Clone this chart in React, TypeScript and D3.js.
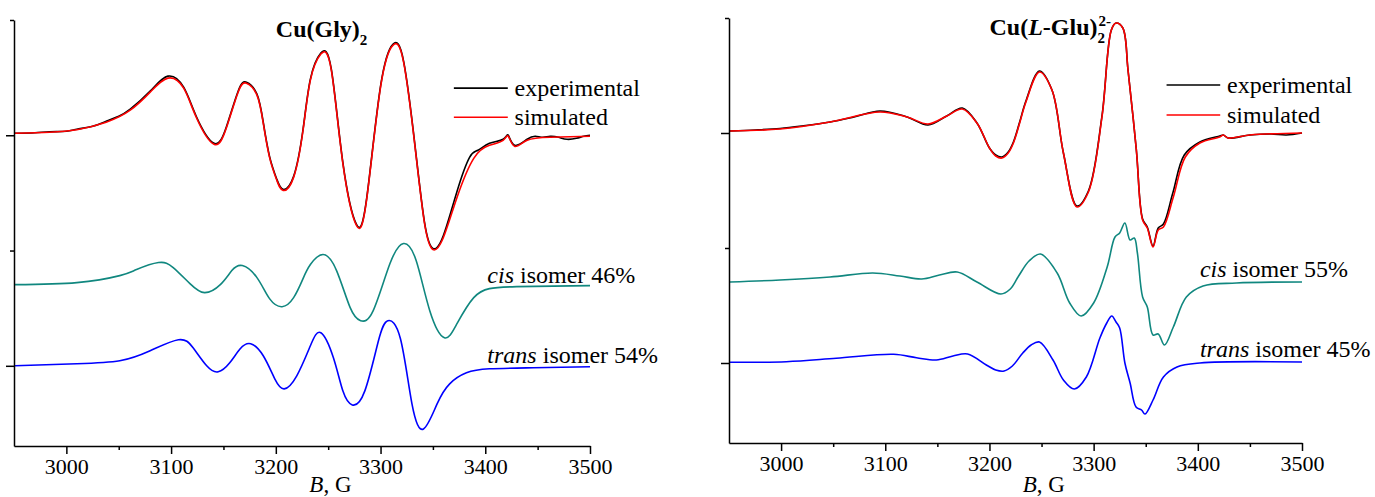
import {
  select,
  scaleLinear,
  line,
  curveNatural,
  curveCatmullRom,
  axisBottom,
  axisLeft,
} from "d3";
import { useEffect, useRef } from "react";

// magnetic field ticks (G) and intensity ticks (a.u., unlabeled)
const fieldTicks = [3000, 3100, 3200, 3300, 3400, 3500];
const fieldMinorTicks = [3050, 3150, 3250, 3350, 3450];
const intensityTicks = [0, 230];
const intensityMinorTicks = [115, 345];

// Cu(Gly)2 spectra: [B, intensity]
const glyExp = [
  [2951, 232], [2970, 232.5], [2984, 233.5], [3000, 234], [3010, 236], [3025, 239],
  [3038, 244], [3050, 249], [3061, 256], [3080, 274], [3097, 289], [3112, 278],
  [3124, 249], [3141, 222], [3153, 239], [3164, 274], [3172, 283], [3182, 271],
  [3188, 243], [3194, 209], [3201, 186], [3207, 176], [3217, 189], [3226, 236],
  [3233, 286], [3243, 312], [3253, 296], [3264, 203], [3277, 141], [3287, 169],
  [3300, 279], [3312, 321], [3322, 304], [3333, 219], [3342, 143], [3350, 117],
  [3360, 130], [3373, 174], [3385, 208], [3393, 215], [3404, 222], [3417, 226],
  [3422, 230], [3428, 220], [3440, 226], [3448, 229], [3455, 228], [3462, 229],
  [3470, 228], [3478, 226], [3487, 227], [3494, 229], [3500, 230],
];
const glySim = [
  [2951, 232], [2984, 233], [3010, 235.5], [3038, 243], [3061, 255], [3080, 273],
  [3097, 287], [3112, 277], [3124, 248], [3141, 221], [3153, 238], [3164, 273],
  [3172, 282], [3182, 270], [3188, 242], [3194, 208], [3201, 185], [3207, 175],
  [3217, 188], [3226, 235], [3233, 285], [3243, 311], [3253, 295], [3264, 202],
  [3277, 140], [3287, 168], [3300, 278], [3312, 320], [3322, 303], [3333, 218],
  [3342, 142], [3350, 116], [3360, 128], [3373, 168], [3389, 207], [3404, 220],
  [3417, 225], [3422, 229], [3428, 219], [3440, 225], [3462, 228], [3500, 229],
];
const glyCis = [
  [2951, 81], [3010, 83], [3051, 90], [3067, 96], [3088, 103], [3102, 98],
  [3118, 82], [3132, 73], [3147, 81], [3158, 95], [3168, 100], [3182, 88],
  [3194, 67], [3206, 59], [3217, 68], [3226, 87], [3233, 101], [3245, 111],
  [3258, 95], [3271, 58], [3281, 45], [3293, 55], [3309, 102], [3322, 122],
  [3334, 105], [3347, 55], [3361, 28], [3373, 42], [3389, 68], [3404, 77],
  [3430, 79], [3500, 80],
];
const glyTrans = [
  [2951, 0], [3010, 2], [3051, 5], [3080, 15], [3107, 26], [3121, 18],
  [3134, 0], [3145, -6], [3156, 3], [3166, 17], [3176, 22], [3188, 10],
  [3199, -13], [3208, -23], [3220, -10], [3233, 20], [3243, 33], [3255, 8],
  [3264, -25], [3273, -39], [3285, -25], [3298, 25], [3307, 45], [3319, 27],
  [3330, -38], [3341, -63], [3354, -38], [3366, -18], [3382, -7], [3404, -3],
  [3446, -2], [3500, -1],
];

// Cu(L-Glu)2 2- spectra: [B, intensity]
const gluExp = [
  [2951, 232], [2975, 233], [2999, 234.5], [3020, 237], [3047, 241], [3070, 246],
  [3095, 252], [3121, 246], [3141, 238], [3159, 247], [3174, 255], [3188, 240],
  [3200, 215], [3206, 208], [3212, 206], [3218, 211], [3223, 221], [3229, 241],
  [3235, 262], [3248, 292], [3260, 273], [3271, 210], [3284, 157], [3295, 172],
  [3308, 247], [3317, 333], [3321.5, 340], [3328, 335], [3333, 293], [3341, 213],
  [3347, 144], [3351.5, 136], [3357, 117], [3362, 135], [3367, 139], [3376, 170],
  [3387, 208], [3402, 221], [3421, 227], [3424.5, 228], [3429, 225], [3450, 228],
  [3470, 229], [3485, 228], [3500, 230],
];
const gluSim = [
  [2951, 232], [2999, 234], [3047, 241], [3095, 251], [3121, 246], [3141, 239],
  [3159, 247], [3174, 254], [3188, 240], [3200, 215], [3206, 207], [3212, 205],
  [3218, 210], [3223, 220], [3229, 240], [3235, 261], [3248, 291], [3260, 273],
  [3271, 210], [3284, 156], [3295, 171], [3308, 246], [3317, 333], [3321.5, 340],
  [3328, 335], [3333, 293], [3341, 213], [3347, 143], [3351.5, 135], [3357, 116],
  [3362, 133], [3367, 136], [3376.5, 166], [3388, 206], [3402, 220], [3421, 226],
  [3424.5, 228], [3429, 225], [3450, 228], [3500, 230],
];
const gluCis = [
  [2951, 81], [2999, 83], [3047, 86], [3088, 90], [3114, 87], [3135, 84],
  [3152, 88], [3169, 91], [3188, 81], [3211, 69], [3220, 74], [3228, 87],
  [3238, 102], [3249, 109], [3265, 90], [3277, 60], [3288, 47], [3300, 60],
  [3313, 96], [3320.5, 126], [3325, 130], [3330, 140], [3335, 123], [3339, 125],
  [3342, 110], [3347, 66], [3351.5, 56], [3357, 28], [3362, 29], [3368, 18],
  [3376.5, 36], [3389, 66], [3405, 77], [3437, 80], [3500, 81],
];
const gluTrans = [
  [2951, 0.7], [3005, 1.3], [3053, 4.7], [3108, 8.7], [3130, 5.3], [3149, 3],
  [3165, 7], [3179, 9], [3197, -2], [3206, -7], [3214, -8], [3222, -3],
  [3232, 10], [3240, 18], [3248, 21], [3261, 3], [3271, -17], [3281.5, -26],
  [3293, -14], [3306, 25], [3312.6, 40], [3317.4, 47], [3321.5, 41], [3325, 35],
  [3330, 0], [3335, -20], [3340.7, -44], [3346, -47], [3349.3, -51], [3357, -37],
  [3367, -14], [3380, -4], [3402, 0], [3500, 1],
];

const legendLabels = ["experimental", "simulated"];
const cisShares = ["46%", "55%"];
const transShares = ["54%", "45%"];

const FONT = "'Liberation Serif', 'Times New Roman', Times, serif";
const colors = { exp: "#000000", sim: "#ff0000", cis: "#10877f", trans: "#0000ff" };

const panels = [
  { left: 14, right: 590, top: 20, bottom: 446, exp: glyExp, sim: glySim, cis: glyCis, trans: glyTrans, glu: false },
  { left: 729, right: 1302, top: 18, bottom: 443, exp: gluExp, sim: gluSim, cis: gluCis, trans: gluTrans, glu: true },
];

export default function App() {
  const svgRef = useRef<SVGSVGElement>(null);

  useEffect(() => {
    const svg = select(svgRef.current);
    svg.selectAll("*").remove();

    panels.forEach((p, i) => {
      const x = scaleLinear().domain([2950, 3500]).range([p.left, p.right]);
      const y = scaleLinear().domain([-80, 345]).range([p.bottom, p.top]);
      const g = svg.append("g");

      // glu spectra have sharp shoulders; natural spline overshoots there
      const spectrum = line<number[]>()
        .x((d) => x(d[0]))
        .y((d) => y(d[1]))
        .curve(p.glu ? curveCatmullRom.alpha(0.5) : curveNatural);

      const series: [number[][], string][] = [
        [p.trans, colors.trans],
        [p.cis, colors.cis],
        [p.exp, colors.exp],
        [p.sim, colors.sim],
      ];
      series.forEach(([data, color]) => {
        g.append("path")
          .attr("d", spectrum(data))
          .attr("fill", "none")
          .attr("stroke", color)
          .attr("stroke-width", 1.6)
          .attr("stroke-linejoin", "round");
      });

      // x axis
      const xAxis = g
        .append("g")
        .attr("transform", `translate(0,${p.bottom})`)
        .call(
          axisBottom(x)
            .tickValues(fieldTicks)
            .tickSize(8)
            .tickSizeOuter(0)
            .tickPadding(4)
            .tickFormat((d) => String(d))
        );
      xAxis.attr("font-family", FONT).attr("font-size", 22);
      xAxis.selectAll("text").attr("fill", "#000");
      g.append("g")
        .attr("transform", `translate(0,${p.bottom})`)
        .call(axisBottom(x).tickValues(fieldMinorTicks).tickSize(4).tickFormat(() => ""))
        .call((a) => a.select(".domain").remove());

      // y axis
      g.append("g")
        .attr("transform", `translate(${p.left},0)`)
        .call(axisLeft(y).tickValues(intensityTicks).tickSize(8).tickSizeOuter(0).tickFormat(() => ""));
      g.append("g")
        .attr("transform", `translate(${p.left},0)`)
        .call(axisLeft(y).tickValues(intensityMinorTicks).tickSize(4).tickFormat(() => ""))
        .call((a) => a.select(".domain").remove());

      g.selectAll(".domain, .tick line").attr("stroke", "#000").attr("stroke-width", 1.5);

      // axis title
      const bl = g
        .append("text")
        .attr("x", x(3232))
        .attr("y", 492)
        .attr("font-family", FONT)
        .attr("font-size", 23);
      bl.append("tspan").attr("font-style", "italic").text("B");
      bl.append("tspan").text(", G");

      // panel title
      const title = g
        .append("text")
        .attr("x", x(3200))
        .attr("y", y(328))
        .attr("font-family", FONT)
        .attr("font-size", 24)
        .attr("font-weight", "bold");
      if (p.glu) {
        title.append("tspan").text("Cu(");
        title.append("tspan").attr("font-style", "italic").text("L");
        title.append("tspan").text("-Glu)");
      } else {
        title.append("tspan").text("Cu(Gly)");
      }
      const tw = (title.node() as SVGTextElement).getComputedTextLength();
      const tx = x(3200) + tw;
      g.append("text")
        .attr("x", tx)
        .attr("y", y(328) + 8)
        .attr("font-family", FONT)
        .attr("font-size", 15)
        .attr("font-weight", "bold")
        .text("2");
      if (p.glu) {
        g.append("text")
          .attr("x", tx + 1)
          .attr("y", y(328) - 9)
          .attr("font-family", FONT)
          .attr("font-size", 15)
          .attr("font-weight", "bold")
          .text("2-");
      }

      // legend
      legendLabels.forEach((label, k) => {
        const ly = y(p.glu ? 278 - k * 30 : 277 - k * 29);
        g.append("line")
          .attr("x1", x(3370))
          .attr("x2", x(3421.5))
          .attr("y1", ly)
          .attr("y2", ly)
          .attr("stroke", k === 0 ? colors.exp : colors.sim)
          .attr("stroke-width", 1.6);
        g.append("text")
          .attr("x", x(3428))
          .attr("y", ly + 8)
          .attr("font-family", FONT)
          .attr("font-size", 24)
          .text(label);
      });

      // isomer labels
      const cisT = g
        .append("text")
        .attr("x", x(3402))
        .attr("y", y(p.glu ? 86 : 83))
        .attr("font-family", FONT)
        .attr("font-size", 24);
      cisT.append("tspan").attr("font-style", "italic").text("cis");
      cisT.append("tspan").text(` isomer ${cisShares[i]}`);
      const trT = g
        .append("text")
        .attr("x", x(3402))
        .attr("y", y(p.glu ? 6 : 3))
        .attr("font-family", FONT)
        .attr("font-size", 24);
      trT.append("tspan").attr("font-style", "italic").text("trans");
      trT.append("tspan").text(` isomer ${transShares[i]}`);
    });
  }, []);

  return (
    <svg
      ref={svgRef}
      width={1375}
      height={497}
      style={{ position: "absolute", left: 0, top: 0, background: "#fff" }}
    />
  );
}
